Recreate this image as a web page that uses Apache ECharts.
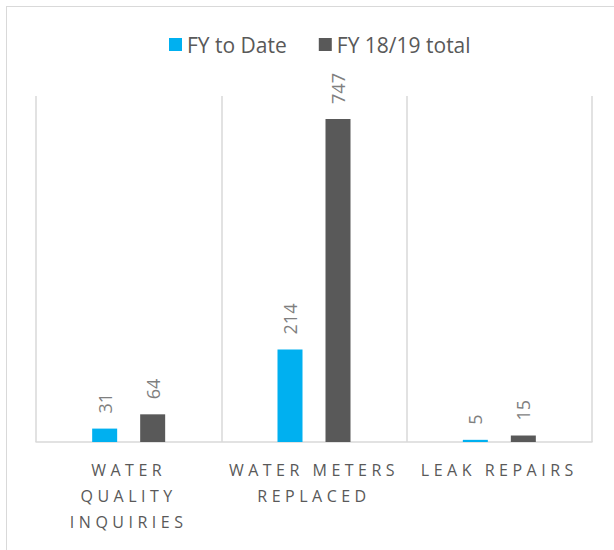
<!DOCTYPE html>
<html>
<head>
<meta charset="utf-8">
<script src="https://cdn.jsdelivr.net/npm/echarts@6/dist/echarts.min.js"></script>
<style>
  html, body { margin: 0; padding: 0; background: #fff; }
  #frame {
    position: absolute; left: 6px; top: 6px; width: 700px; height: 700px;
    border-left: 1px solid #d9d9d9; border-top: 1px solid #d9d9d9;
  }
  #chart { position: absolute; left: 0; top: 0; width: 614px; height: 550px; }
</style>
</head>
<body>
<div id="frame"></div>
<div id="chart"></div>
<script>
const categories = ["WATER\nQUALITY\nINQUIRIES", "WATER METERS\nREPLACED", "LEAK REPAIRS"];
const fyToDate = [31, 214, 5];
const fyTotal = [64, 747, 15];
const seriesNames = ["FY to Date", "FY 18/19 total"];

const font = "'Open Sans', sans-serif";
const textColor = "#595959";

const chart = echarts.init(document.getElementById("chart"), null, { renderer: "svg" });

const barLabel = {
  show: true,
  position: "top",
  rotate: 90,
  align: "left",
  verticalAlign: "middle",
  distance: 15,
  fontFamily: font,
  fontSize: 18,
  color: "#7f7f7f",
};

chart.setOption({
  animation: false,
  legend: {
    left: 164,
    top: 29,
    itemWidth: 13,
    itemHeight: 13,
    itemGap: 32,
    icon: "rect",
    textStyle: { fontFamily: font, fontSize: 21, color: textColor },
    data: seriesNames,
  },
  grid: { left: 36, right: 22, top: 96, bottom: 108 },
  xAxis: {
    type: "category",
    data: categories,
    axisLine: { lineStyle: { color: "#d9d9d9", width: 1.5 } },
    axisTick: { show: false },
    splitLine: { show: true, lineStyle: { color: "#d9d9d9", width: 1.5 } },
    axisLabel: {
      interval: 0,
      margin: 15,
      fontFamily: font,
      fontSize: 16,
      lineHeight: 26,
      color: textColor,
    },
  },
  yAxis: {
    type: "value",
    min: 0,
    max: 800,
    show: false,
    splitLine: { show: false },
  },
  series: [
    {
      name: seriesNames[0],
      type: "bar",
      data: fyToDate,
      barWidth: 25,
      barGap: "92%",
      itemStyle: { color: "#00b0f0" },
      label: barLabel,
    },
    {
      name: seriesNames[1],
      type: "bar",
      data: fyTotal,
      barWidth: 25,
      barGap: "92%",
      itemStyle: { color: "#595959" },
      label: barLabel,
    },
  ],
});

// spaced-out capitals for the category labels
function spaceLabels() {
  document.querySelectorAll("#chart text").forEach((t) => {
    if (/^[A-Z ]+$/.test(t.textContent.trim())) {
      t.style.letterSpacing = "4.5px";
    }
  });
}
spaceLabels();
chart.on("finished", spaceLabels);
setTimeout(spaceLabels, 50);
</script>
</body>
</html>
